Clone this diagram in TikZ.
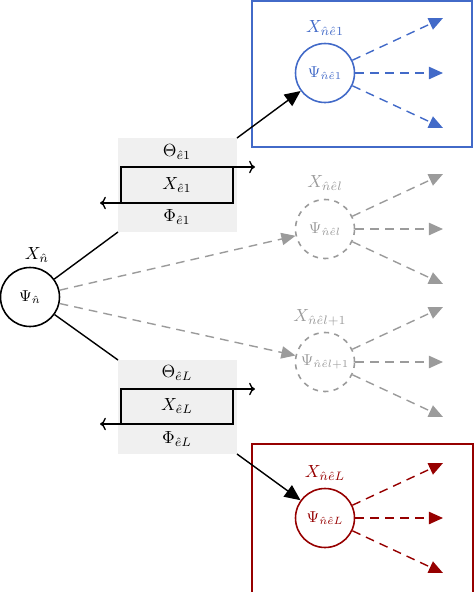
\documentclass[tikz,border=0pt]{standalone}
\usetikzlibrary{arrows.meta}

\definecolor{blueN}{RGB}{66,106,200}
\definecolor{redN}{RGB}{150,0,0}
\definecolor{grayN}{RGB}{155,155,155}
\definecolor{boxgray}{RGB}{240,240,240}

\begin{document}
\begin{tikzpicture}[x=0.02cm,y=-0.02cm,
    agent/.style={circle,draw,line width=0.9pt,minimum size=1.18cm,inner sep=0pt,font=\small},
    lbl/.style={inner sep=1pt},
    tip/.style={-{Triangle[length=8pt,width=7pt]},line width=0.8pt,dash pattern=on 5pt off 3.5pt},
    push/.style={-{Triangle[length=9pt,width=8pt]},line width=0.8pt},
    pass/.style={->,line width=0.8pt}]
    \useasboundingbox (0,0) rectangle (474,592);

    % root agent
    \node[agent] (n) at (30,297) {$\Psi_{\hat{n}}$};
    \node[lbl] (nX) at (37,255) {$X_{\hat{n}}$};

    % message box to the first child
    \fill[boxgray] (118,138) rectangle (237,232);
    \coordinate (b1ne) at (237,138);
    \coordinate (b1sw) at (118,232);
    \coordinate (w1nw) at (121,167);
    \coordinate (w1sw) at (121,203);
    \coordinate (w1ne) at (233,167);
    \coordinate (w1se) at (233,203);
    \coordinate (o1) at (255,167);
    \coordinate (i1) at (100,203);
    \draw[pass] (w1sw) -- (w1nw) -- (o1);
    \draw[pass] (w1ne) -- (w1se) -- (i1);
    \node[lbl] (t1) at (177,152) {$\Theta_{\hat{e}1}$};
    \node[lbl] (x1) at (177,185) {$X_{\hat{e}1}$};
    \node[lbl] (f1) at (177,217) {$\Phi_{\hat{e}1}$};

    % message box to the last child
    \fill[boxgray] (118,360) rectangle (237,454);
    \coordinate (bLnw) at (118,360);
    \coordinate (bLse) at (237,454);
    \coordinate (wLnw) at (121,389);
    \coordinate (wLsw) at (121,424);
    \coordinate (wLne) at (233,389);
    \coordinate (wLse) at (233,424);
    \coordinate (oL) at (255,389);
    \coordinate (iL) at (100,424);
    \draw[pass] (wLsw) -- (wLnw) -- (oL);
    \draw[pass] (wLne) -- (wLse) -- (iL);
    \node[lbl] (tL) at (177,373) {$\Theta_{\hat{e}L}$};
    \node[lbl] (xL) at (177,406) {$X_{\hat{e}L}$};
    \node[lbl] (fL) at (177,439) {$\Phi_{\hat{e}L}$};

    % first child
    \draw[blueN,line width=1.3pt] (252,1) rectangle (472,147);
    \node[agent,draw=blueN,text=blueN] (e1) at (325,73) {$\Psi_{\hat{n}\hat{e}1}$};
    \node[lbl,text=blueN] (e1X) at (325,28) {$X_{\hat{n}\hat{e}1}$};
    \foreach \dy [count=\i] in {-55,0,55} {
        \path (e1) ++(118,\dy) coordinate (e1t\i);
        \draw[tip,blueN] (e1) -- (e1t\i);
    }

    % child l
    \node[agent,draw=grayN,text=grayN,dashed] (el) at (325,229) {$\Psi_{\hat{n}\hat{e}l}$};
    \node[lbl,text=grayN] (elX) at (325,183) {$X_{\hat{n}\hat{e}l}$};
    \foreach \dy [count=\i] in {-55,0,55} {
        \path (el) ++(118,\dy) coordinate (elt\i);
        \draw[tip,grayN] (el) -- (elt\i);
    }

    % child l+1
    \node[agent,draw=grayN,text=grayN,dashed] (em) at (325,362) {$\Psi_{\hat{n}\hat{e}l+1}$};
    \node[lbl,text=grayN] (emX) at (320,318) {$X_{\hat{n}\hat{e}l+1}$};
    \foreach \dy [count=\i] in {-55,0,55} {
        \path (em) ++(118,\dy) coordinate (emt\i);
        \draw[tip,grayN] (em) -- (emt\i);
    }

    % last child
    \draw[redN,line width=1.3pt] (252,444) rectangle (473,600);
    \node[agent,draw=redN,text=redN] (eL) at (325,518) {$\Psi_{\hat{n}\hat{e}L}$};
    \node[lbl,text=redN] (eLX) at (325,473) {$X_{\hat{n}\hat{e}L}$};
    \foreach \dy [count=\i] in {-55,0,55} {
        \path (eL) ++(118,\dy) coordinate (eLt\i);
        \draw[tip,redN] (eL) -- (eLt\i);
    }

    % edges from the root
    \draw[line width=0.8pt] (n) -- (b1sw);
    \draw[line width=0.8pt] (n) -- (bLnw);
    \draw[push] (b1ne) -- (e1);
    \draw[push] (bLse) -- (eL);
    \draw[tip,grayN] (n) -- (el);
    \draw[tip,grayN] (n) -- (em);

\end{tikzpicture}
\end{document}
